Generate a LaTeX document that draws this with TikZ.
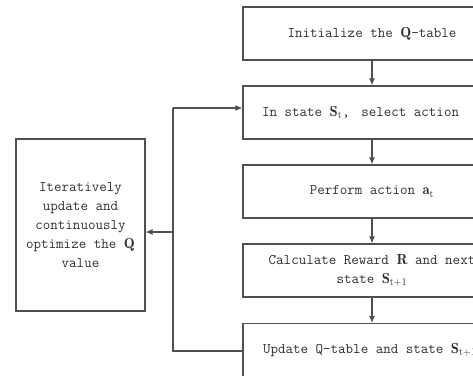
\documentclass[tikz,border=0pt]{standalone}
\usepackage{fontspec}
\usetikzlibrary{arrows.meta,calc}
\definecolor{linec}{HTML}{505050}
\definecolor{textc}{HTML}{303030}
\tikzset{
  stepbox/.style={draw=linec, line width=1.1pt, rectangle, minimum width=258pt, minimum height=53pt,
    inner sep=0pt, align=center, text=textc, font=\ttfamily\fontsize{14.6}{19.5}\selectfont},
  sidebox/.style={draw=linec, line width=1.1pt, rectangle, minimum width=129pt, minimum height=172pt,
    inner sep=0pt, align=center, text=textc, font=\ttfamily\fontsize{14.6}{19}\selectfont},
  conn/.style={draw=linec, line width=1.1pt},
  arr/.style={conn, -{Latex[length=7pt,width=6pt]}}
}
\begin{document}
\begin{tikzpicture}[x=1pt,y=-1pt]
\useasboundingbox (0,0) rectangle (473,375);
\clip (0,0) rectangle (473,375);
\fill[white] (0,0) rectangle (473,375);
\node[stepbox] (b1) at (372,33.5) {Initialize the $\mathbf{Q}$-table};
\node[stepbox] (b2) at (372,112.5) {\makebox[220pt][l]{In state $\mathbf{S}_\mathrm{t}$,\hspace{4pt} select action}};
\node[stepbox] (b3) at (372,191.5) {Perform action $\mathbf{a}_\mathrm{t}$};
\node[stepbox] (b4) at (372,270.5) {Calculate Reward $\mathbf{R}$ and next\\state $\mathbf{S}_\mathrm{t+1}$};
\node[stepbox] (b5) at (372,350) {\makebox[218pt][l]{Update Q-table and state $\mathbf{S}_\mathrm{t+1}$}};
\node[sidebox] (it) at (80.5,225) {Iteratively\\update and\\continuously\\optimize the $\mathbf{Q}$\\value};
\coordinate (top) at (173,108);
\coordinate (bot) at (173,351);
\coordinate (mid) at (173,232);
\draw[arr] (b1) -- (b2);
\draw[arr] (b2) -- (b3);
\draw[arr] (b3) -- (b4);
\draw[arr] (b4) -- (b5);
\draw[conn] (b5.west |- bot) -- (bot) -- (top);
\draw[arr] (top) -- (b2.west |- top);
\draw[arr] (mid) -- (it.east |- mid);
\end{tikzpicture}
\end{document}
